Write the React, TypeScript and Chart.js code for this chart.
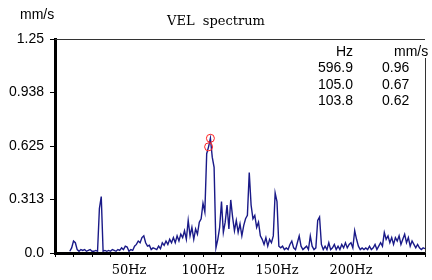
import React, { useEffect, useRef } from "react";
import { Chart, registerables } from "chart.js";

Chart.register(...registerables);

// Spectrum: velocity amplitude (mm/s) on a 1.25 Hz grid starting at 10 Hz
const START_HZ = 10;
const STEP_HZ = 1.25;
const velocity: number[] = [
  // 10 – 18.75
  0.01, 0.03, 0.07, 0.06, 0.02, 0.01, 0.02, 0.015,
  // 20 – 28.75
  0.02, 0.01, 0.015, 0.02, 0.01, 0.01, 0.015, 0.01,
  // 30 – 38.75
  0.26, 0.33, 0.01, 0.015, 0.01, 0.015, 0.01, 0.02,
  // 40 – 48.75
  0.015, 0.01, 0.02, 0.015, 0.03, 0.02, 0.04, 0.035,
  // 50 – 58.75
  0.01, 0.02, 0.015, 0.04, 0.05, 0.07, 0.06, 0.09,
  // 60 – 68.75
  0.1, 0.06, 0.04, 0.045, 0.02, 0.03, 0.025, 0.02,
  // 70 – 78.75
  0.04, 0.025, 0.06, 0.045, 0.07, 0.05, 0.08, 0.06,
  // 80 – 88.75
  0.09, 0.06, 0.1, 0.07, 0.11, 0.09, 0.13, 0.08,
  // 90 – 98.75
  0.19, 0.1, 0.15, 0.08, 0.14, 0.11, 0.18, 0.2,
  // 100 – 108.75
  0.29, 0.24, 0.58, 0.62, 0.67, 0.56, 0.5, 0.03,
  // 110 – 118.75
  0.08, 0.15, 0.3, 0.12, 0.18, 0.28, 0.14, 0.31,
  // 120 – 128.75
  0.21, 0.13, 0.19, 0.12, 0.17, 0.1, 0.16, 0.2,
  // 130 – 138.75
  0.22, 0.47, 0.28, 0.2, 0.22, 0.15, 0.18, 0.1,
  // 140 – 148.75
  0.08, 0.05, 0.09, 0.04, 0.08, 0.06, 0.1, 0.35,
  // 150 – 158.75
  0.3, 0.04, 0.03, 0.04, 0.02, 0.03, 0.02, 0.05,
  // 160 – 168.75
  0.07, 0.03, 0.02, 0.06, 0.1, 0.04, 0.02, 0.03,
  // 170 – 178.75
  0.04, 0.02, 0.1, 0.04, 0.02, 0.03, 0.19, 0.21,
  // 180 – 188.75
  0.05, 0.02, 0.04, 0.02, 0.06, 0.02, 0.03, 0.05,
  // 190 – 198.75
  0.02, 0.04, 0.02, 0.05, 0.03, 0.06, 0.03, 0.05,
  // 200 – 208.75
  0.06, 0.03, 0.13, 0.08, 0.04, 0.02, 0.03, 0.02,
  // 210 – 218.75
  0.03, 0.02, 0.04, 0.02, 0.03, 0.05, 0.02, 0.04,
  // 220 – 228.75
  0.06, 0.04, 0.12, 0.08, 0.1, 0.06, 0.09, 0.05,
  // 230 – 238.75
  0.09, 0.07, 0.1, 0.05, 0.08, 0.11, 0.06, 0.09,
  // 240 – 250
  0.04, 0.07, 0.05, 0.03, 0.05, 0.03, 0.02, 0.03, 0.025,
];

// Marked peaks (table at top right)
const peakHz = ["596.9", "105.0", "103.8"];
const peakVal = ["0.96", "0.67", "0.62"];
const markerFreqs = [105.0, 103.8];
const markerVals = [0.67, 0.62];

// Axes
const yTickValues = [0, 0.3125, 0.625, 0.9375, 1.25];
const yTickLabels = ["0.0", "0.313", "0.625", "0.938", "1.25"];
const xTickValues = [50, 100, 150, 200];
const xTickLabels = ["50Hz", "100Hz", "150Hz", "200Hz"];
const X_MAX = 250;
const Y_MAX = 1.25;

const TITLE = "VEL  spectrum";
const UNIT = "mm/s";

const overlay = {
  id: "overlay",
  afterDraw(chart: any) {
    const { ctx, chartArea } = chart;
    const { left, top, right, bottom } = chartArea;
    ctx.save();
    // thin top & right frame
    ctx.strokeStyle = "#333";
    ctx.lineWidth = 1;
    ctx.beginPath();
    ctx.moveTo(left, top + 0.5);
    ctx.lineTo(right, top + 0.5);
    ctx.moveTo(right + 0.5, top + 19);
    ctx.lineTo(right + 0.5, bottom);
    ctx.stroke();

    ctx.fillStyle = "#000";
    // title
    ctx.font = "13px 'DejaVu Serif'";
    ctx.textAlign = "center";
    ctx.textBaseline = "middle";
    ctx.fillText(TITLE, 216, 22);
    // unit
    ctx.font = "14px 'Liberation Sans'";
    ctx.textAlign = "left";
    ctx.fillText(UNIT, 20, 15);

    // table
    const rowY = [52, 68.5, 85, 101.5];
    ctx.fillStyle = "#fff";
    ctx.fillRect(392, top + 2, 40, 17);
    ctx.fillStyle = "#000";
    ctx.textAlign = "right";
    ctx.fillText("Hz", 353, rowY[0]);
    ctx.textAlign = "left";
    ctx.fillText(UNIT, 394, rowY[0]);
    for (let i = 0; i < peakHz.length; i++) {
      ctx.textAlign = "right";
      ctx.fillText(peakHz[i], 353, rowY[i + 1]);
      ctx.textAlign = "left";
      ctx.fillText(peakVal[i], 382, rowY[i + 1]);
    }
    ctx.restore();
  },
};

export default function App() {
  const ref = useRef<HTMLCanvasElement | null>(null);
  useEffect(() => {
    if (!ref.current) return;
    const lineData = velocity.map((v, i) => ({ x: START_HZ + i * STEP_HZ, y: v }));
    const markerData = markerFreqs.map((f, i) => ({ x: f, y: markerVals[i] }));
    const chart = new Chart(ref.current, {
      type: "scatter",
      data: {
        datasets: [
          {
            data: markerData,
            showLine: false,
            pointRadius: 4,
            pointBorderColor: "#ff2020",
            pointBackgroundColor: "rgba(0,0,0,0)",
            pointBorderWidth: 1,
            order: 0,
          },
          {
            data: lineData,
            showLine: true,
            borderColor: "#1a1a88",
            borderWidth: 1.4,
            pointRadius: 0,
            tension: 0,
            order: 1,
          },
        ],
      },
      options: {
        responsive: false,
        animation: false,
        events: [],
        layout: { padding: { top: 39, right: 7, left: 0, bottom: 0 } },
        plugins: { legend: { display: false }, title: { display: false }, tooltip: { enabled: false } },
        scales: {
          x: {
            type: "linear",
            min: 0,
            max: X_MAX,
            afterFit: (s: any) => {
              s.height = 27;
            },
            afterBuildTicks: (s: any) => {
              const t = [];
              for (let v = 0; v <= X_MAX; v += 12.5) t.push({ value: v });
              s.ticks = t;
            },
            ticks: {
              autoSkip: false,
              maxRotation: 0,
              padding: 6,
              color: "#000",
              font: { family: "'DejaVu Serif'", size: 13 },
              callback: (v: any) => {
                const k = xTickValues.indexOf(Number(v));
                return k >= 0 ? xTickLabels[k] : "";
              },
            },
            grid: { drawOnChartArea: false, drawTicks: true, tickLength: 4, color: "#000" },
            border: { display: true, color: "#000", width: 3 },
          },
          y: {
            min: 0,
            max: Y_MAX,
            afterFit: (s: any) => {
              s.width = 55;
            },
            afterBuildTicks: (s: any) => {
              s.ticks = yTickValues.map((v) => ({ value: v }));
            },
            ticks: {
              padding: 6,
              color: "#000",
              font: { family: "'Liberation Sans'", size: 14 },
              callback: (v: any) => {
                const k = yTickValues.indexOf(Number(v));
                return k >= 0 ? yTickLabels[k] : "";
              },
            },
            grid: { drawOnChartArea: false, drawTicks: true, tickLength: 5, color: "#000" },
            border: { display: true, color: "#000", width: 3 },
          },
        },
      },
      plugins: [overlay],
    });
    return () => chart.destroy();
  }, []);
  return (
    <div style={{ position: "absolute", left: 0, top: 0, width: 432, height: 280, background: "#fff" }}>
      <canvas ref={ref} width={432} height={280} />
    </div>
  );
}
